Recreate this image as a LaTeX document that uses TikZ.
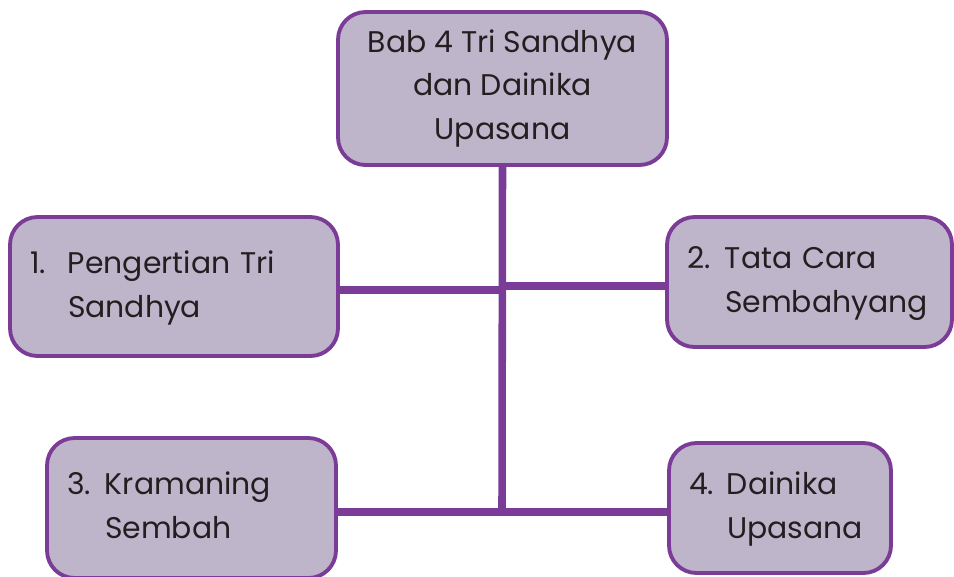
\documentclass[tikz,border=0pt]{standalone}
\usepackage{fontspec}
\setmainfont{Poppins}
\usetikzlibrary{positioning}
\definecolor{boxfill}{HTML}{BFB5CA}
\definecolor{boxline}{HTML}{7B3C98}
\definecolor{ink}{HTML}{231F20}
\newcommand\subtext[3]{\begin{tabular}{@{}p{0.76cm}@{}l@{}}#1 & #2\\ & #3\end{tabular}}

\begin{document}
\begin{tikzpicture}[x=0.02cm,y=-0.02cm,
	topic/.style={draw=boxline, fill=boxfill, line width=2.2pt, rounded corners=0.55cm,
		inner ysep=0pt, inner xsep=0.4cm, text=ink, font=\fontsize{17}{25}\selectfont},
	link/.style={draw=boxline, line width=4.3pt}]

	\useasboundingbox (0,0) rectangle (954,576);

	% Main topic
	\node [topic, minimum width=6.58cm, minimum height=3.06cm, align=center] (bab) at (502.5,88.5)
		{Bab 4 Tri Sandhya\\dan Dainika\\Upasana};

	% Sub topics
	\node [topic, minimum width=6.56cm, minimum height=2.78cm, text width=5.76cm, align=left] (sub1) at (174,286.5)
		{\subtext{1.}{Pengertian Tri}{Sandhya}};
	\node [topic, minimum width=5.70cm, minimum height=2.60cm, text width=4.90cm, align=left] (sub2) at (809.5,282)
		{\subtext{2.}{Tata Cara}{Sembahyang}};
	\node [topic, minimum width=5.78cm, minimum height=2.80cm, text width=4.98cm, align=left] (sub3) at (191.5,508)
		{\subtext{3.}{Kramaning}{Sembah}};
	\node [topic, minimum width=4.44cm, minimum height=2.60cm, text width=3.64cm, align=left] (sub4) at (780,508)
		{\subtext{4.}{Dainika}{Upasana}};

	% Links
	\coordinate (joinl) at (502,290);
	\coordinate (joinr) at (502,286);
	\coordinate (foot) at (502,512);
	\draw [link] (bab.south) -- (foot);
	\draw [link] (sub1.east |- joinl) -- (joinl);
	\draw [link] (sub2.west |- joinr) -- (joinr);
	\draw [link] (sub3.east |- foot) -- (foot) -- (sub4.west |- foot);

\end{tikzpicture}
\end{document}
